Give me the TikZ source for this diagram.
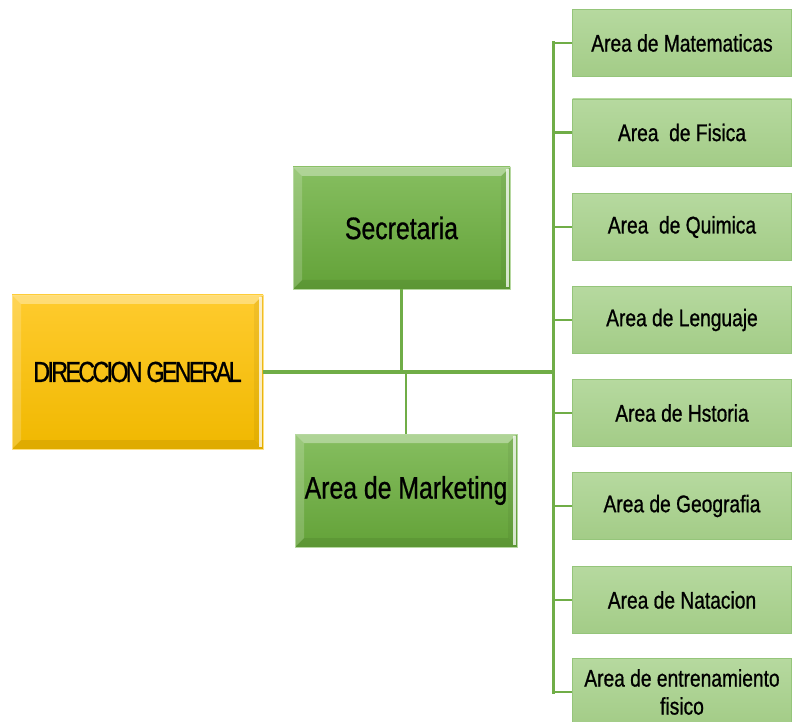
\documentclass[tikz,border=0pt]{standalone}
\usepackage{fontspec}
\setmainfont{Liberation Sans}[FakeStretch=0.8,FakeBold=0.8]
\newfontfamily\dirfont{Liberation Sans}[FakeStretch=0.8,FakeBold=0.8,LetterSpace=-9]
\usetikzlibrary{calc}
\definecolor{lineg}{HTML}{70AD47}
\definecolor{dkgtop}{HTML}{86BE60}
\definecolor{dkgbot}{HTML}{63A238}
\definecolor{ltgtop}{HTML}{B6D99F}
\definecolor{ltgbot}{HTML}{A3CC87}
\definecolor{ltgedge}{HTML}{95C57A}
\definecolor{yeltop}{HTML}{FFCB2E}
\definecolor{yelbot}{HTML}{F0B800}
\newcommand{\bevw}{9pt}
\tikzset{
  bevel/.style={path picture={
    \coordinate (bnw) at (path picture bounding box.north west);
    \coordinate (bne) at (path picture bounding box.north east);
    \coordinate (bsw) at (path picture bounding box.south west);
    \coordinate (bse) at (path picture bounding box.south east);
    \fill[white,opacity=.35] (bnw) -- (bne) -- ($(bne)+(-\bevw,-\bevw)$) -- ($(bnw)+(\bevw,-\bevw)$) -- cycle;
    \fill[white,opacity=.18] (bnw) -- ($(bnw)+(\bevw,-\bevw)$) -- ($(bsw)+(\bevw,\bevw)$) -- (bsw) -- cycle;
    \fill[black,opacity=.07] (bsw) -- (bse) -- ($(bse)+(-\bevw,\bevw)$) -- ($(bsw)+(\bevw,\bevw)$) -- cycle;
    \fill[black,opacity=.05] (bne) -- (bse) -- ($(bse)+(-\bevw,\bevw)$) -- ($(bne)+(-\bevw,-\bevw)$) -- cycle;
    \fill[white,opacity=.75] ($(bne)+(-4pt,-2pt)$) rectangle ($(bse)+(-1.5pt,2pt)$);
  }},
  dirbox/.style={bevel,draw=yeltop!60!white,line width=0.8pt,top color=yeltop,bottom color=yelbot,
    minimum width=251pt,minimum height=154pt,inner sep=0pt,
    font=\dirfont\fontsize{29}{32}\selectfont,text=black},
  midbox/.style={bevel,draw=dkgtop!60!white,line width=0.8pt,top color=dkgtop,bottom color=dkgbot,
    inner sep=0pt,font=\fontsize{31}{34}\selectfont,text=black},
  areabox/.style={draw=ltgedge,line width=0.9pt,top color=ltgtop,bottom color=ltgbot,
    minimum width=219pt,minimum height=67pt,inner sep=0pt,align=center,
    font=\fontsize{24}{28}\selectfont,text=black},
  mainline/.style={lineg,line width=3.5pt},
  subline/.style={lineg,line width=2.5pt},
}
\begin{document}
\begin{tikzpicture}[x=1pt,y=1pt]
\useasboundingbox (0,0) rectangle (792,721);
\fill[white] (0,0) rectangle (792,721);
\coordinate (sp) at (553,0);
\node[dirbox] (dir) at (137.5,349) {DIRECCION GENERAL};
\node[midbox,minimum width=217pt,minimum height=122pt] (sec) at (401.5,493) {Secretaria};
\node[midbox,minimum width=222pt,minimum height=113pt] (mkt) at (406,230.5) {Area de Marketing};
\node[areabox] (a1) at (682,678) {Area de Matematicas};
\node[areabox] (a2) at (682,588.5) {Area\ \ de Fisica};
\node[areabox] (a3) at (682,494) {Area\ \ de Quimica};
\node[areabox] (a4) at (682,401) {Area de Lenguaje};
\node[areabox] (a5) at (682,308) {Area de Hstoria};
\node[areabox] (a6) at (682,215) {Area de Geografia};
\node[areabox] (a7) at (682,121) {Area de Natacion};
\node[areabox] (a8) at (682,29) {Area de entrenamiento\\fisico};
\draw[subline] (sec.south) -- (sec.south |- dir.east);
\draw[subline] (mkt.north) -- (mkt.north |- dir.east);
\draw[mainline] (dir.east) -- (dir.east -| sp);
\draw[subline,line width=3pt,line cap=rect] (a1.west -| sp) -- (a8.west -| sp);
\foreach \i in {1,...,8}{\draw[subline] (a\i.west -| sp) -- (a\i.west);}
\end{tikzpicture}
\end{document}
